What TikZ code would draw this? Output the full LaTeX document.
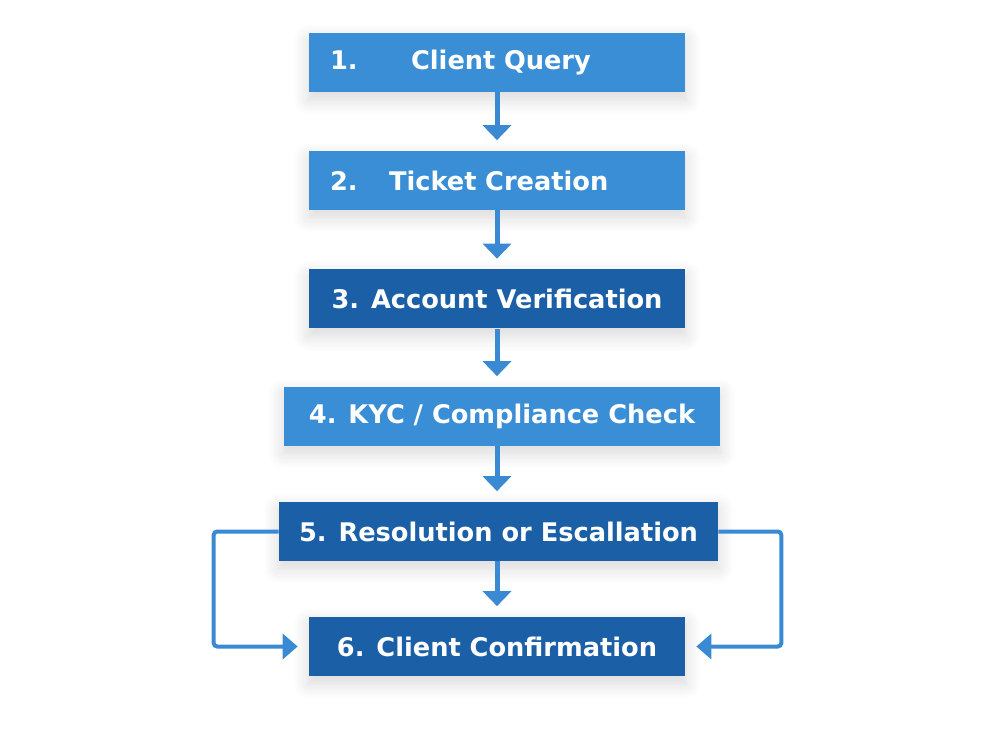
\documentclass[tikz,border=0pt]{standalone}
\usepackage{fontspec}
\setmainfont{DejaVu Sans}
\usetikzlibrary{arrows.meta,shadows.blur}
\definecolor{lightblue}{HTML}{3A8ED5}
\definecolor{darkblue}{HTML}{1B60A7}
\definecolor{arrowblue}{HTML}{3A89D3}
\tikzset{
  stepbox/.style={minimum height=1.18cm, inner sep=0pt, text=white,
    font=\fontsize{14.6}{17}\selectfont\bfseries,
    blur shadow={shadow blur steps=12, shadow xshift=0pt, shadow yshift=-4pt, shadow opacity=16, shadow blur radius=9pt}},
  lightbox/.style={stepbox, fill=lightblue},
  darkbox/.style={stepbox, fill=darkblue},
  flow/.style={draw=arrowblue, line width=0.1cm, -{Triangle[width=0.56cm,length=0.3cm]}, shorten >=0.21cm},
  loop/.style={draw=arrowblue, line width=0.08cm, rounded corners=2pt, -{Triangle[width=0.5cm,length=0.3cm]}, shorten >=0.22cm}
}
\begin{document}
\begin{tikzpicture}
  \useasboundingbox (0,0) rectangle (20,15);
  % steps
  \node[lightbox, minimum width=7.52cm, text width=6.68cm, align=left] (query) at (9.94,13.75) {1.\hspace{1.07cm}Client Query};
  \node[lightbox, minimum width=7.52cm, text width=6.68cm, align=left] (ticket) at (9.94,11.39) {2.\hspace{0.63cm}Ticket Creation};
  \node[darkbox, minimum width=7.52cm] (verify) at (9.94,9.02) {3. Account Verification};
  \node[lightbox, minimum width=8.72cm] (kyc) at (10.04,6.67) {4. KYC / Compliance Check};
  \node[darkbox, minimum width=8.78cm] (resolve) at (9.97,4.37) {5. Resolution or Escallation};
  \node[darkbox, minimum width=7.52cm] (confirm) at (9.94,2.07) {6. Client Confirmation};
  % main flow
  \draw[flow] (query.south) -- (query.south |- ticket.north);
  \draw[flow] (ticket.south) -- (ticket.south |- verify.north);
  \draw[flow] (verify.south) -- (verify.south |- kyc.north);
  \draw[flow] (verify.south |- kyc.south) -- (verify.south |- resolve.north);
  \draw[flow] (verify.south |- resolve.south) -- (confirm.north);
  % side paths
  \draw[loop] (resolve.west) -- ++(-1.3,0) |- (confirm.west);
  \draw[loop] (resolve.east) -- ++(1.26,0) |- (confirm.east);
\end{tikzpicture}
\end{document}
